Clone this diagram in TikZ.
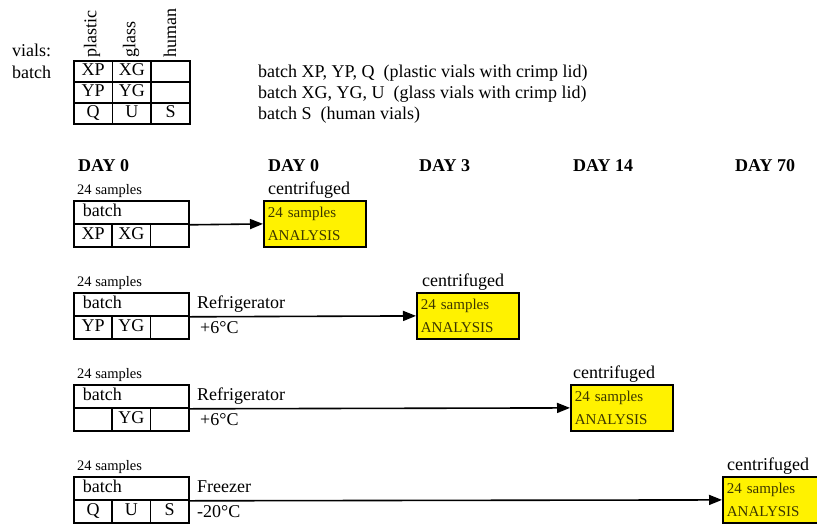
\documentclass[tikz,border=0pt]{standalone}
\usepackage{fontspec}
\setmainfont{Liberation Serif}
\usetikzlibrary{arrows.meta}
\definecolor{anatext}{RGB}{60,55,0}

\begin{document}
\begin{tikzpicture}[
      x=1pt, y=-1pt,
      every node/.style={font=\fontsize{18}{21}\selectfont, inner sep=0pt},
      gcell/.style={draw, line width=1.8pt, minimum width=38.67pt, minimum height=21pt,
                    text height=12pt, text depth=3.5pt, anchor=north west},
      hdr/.style={draw, line width=1.8pt, minimum height=23pt, text width=97pt,
                  inner xsep=9pt, align=left, text height=12pt, text depth=3.5pt,
                  anchor=north west},
      cell/.style={draw, line width=1.8pt, minimum width=38.33pt, minimum height=23pt,
                   text height=12pt, text depth=3.5pt, anchor=north west},
      ana/.style={draw, line width=1.8pt, fill=yellow, text=anatext, minimum height=46pt,
                  text width=94pt, inner xsep=4pt, align=left, anchor=north west,
                  font=\fontsize{15}{23}\selectfont},
      small/.style={font=\fontsize{14.5}{17}\selectfont, anchor=base west},
      txt/.style={anchor=base west},
      day/.style={font=\fontsize{18}{21}\selectfont\bfseries, anchor=base west},
      vlbl/.style={rotate=90, anchor=west},
      arr/.style={-{Triangle[length=13pt, width=10pt]}, line width=1.6pt}]

    \useasboundingbox (0,0) rectangle (817,523);

    % ============================================
    % legend: vials per batch
    % ============================================
    \node[txt] (vials) at (12,56) {vials:};
    \node[txt] (batch) at (12,78) {batch};

    \node[vlbl] (plastic) at (92,58) {plastic};
    \node[vlbl] (glass) at (131,58) {glass};
    \node[vlbl] (human) at (170,58) {human};

    \node[gcell] (g11) at (73,60) {XP};
    \node[gcell] (g12) at (111.67,60) {XG};
    \node[gcell] (g13) at (150.33,60) {};
    \node[gcell] (g21) at (73,81) {YP};
    \node[gcell] (g22) at (111.67,81) {YG};
    \node[gcell] (g23) at (150.33,81) {};
    \node[gcell] (g31) at (73,102) {Q};
    \node[gcell] (g32) at (111.67,102) {U};
    \node[gcell] (g33) at (150.33,102) {S};

    \node[txt] (desc1) at (258,77) {batch XP, YP, Q\ \ (plastic vials with crimp lid)};
    \node[txt] (desc2) at (258,98) {batch XG, YG, U\ \ (glass vials with crimp lid)};
    \node[txt] (desc3) at (258,119) {batch S\ \ (human vials)};

    % ============================================
    % time line
    % ============================================
    \node[day] (d0a) at (78,171) {DAY 0};
    \node[day] (d0b) at (268,171) {DAY 0};
    \node[day] (d3) at (419,171) {DAY 3};
    \node[day] (d14) at (573,171) {DAY 14};
    \node[day] (d70) at (735,171) {DAY 70};

    % ============================================
    % row 1: direct analysis
    % ============================================
    \def\ya{200}
    \node[small] (n1) at (77,\ya-6) {24 samples};
    \node[hdr] (bat1) at (73,\ya) {batch};
    \node[cell] (c1a) at (73,\ya+23) {XP};
    \node[cell] (c1b) at (111.33,\ya+23) {XG};
    \node[cell] (c1c) at (149.67,\ya+23) {};

    \node[txt] (cen1) at (268,\ya-6) {centrifuged};
    \node[ana] (ana1) at (263,\ya) {24 samples\\ANALYSIS};
    \draw[arr] (bat1.south east) -- (ana1.west);

    % ============================================
    % row 2: refrigerator, day 3
    % ============================================
    \def\yb{292}
    \node[small] (n2) at (77,\yb-6) {24 samples};
    \node[hdr] (bat2) at (73,\yb) {batch};
    \node[cell] (c2a) at (73,\yb+23) {YP};
    \node[cell] (c2b) at (111.33,\yb+23) {YG};
    \node[cell] (c2c) at (149.67,\yb+23) {};

    \node[txt] (st2) at (197,\yb+16) {Refrigerator};
    \node[txt] (tp2) at (200,\yb+41) {+6°C};

    \node[txt] (cen2) at (422,\yb-6) {centrifuged};
    \node[ana] (ana2) at (416,\yb) {24 samples\\ANALYSIS};
    \draw[arr] (bat2.south east) -- (ana2.west);

    % ============================================
    % row 3: refrigerator, day 14
    % ============================================
    \def\yc{384}
    \node[small] (n3) at (77,\yc-6) {24 samples};
    \node[hdr] (bat3) at (73,\yc) {batch};
    \node[cell] (c3a) at (73,\yc+23) {};
    \node[cell] (c3b) at (111.33,\yc+23) {YG};
    \node[cell] (c3c) at (149.67,\yc+23) {};

    \node[txt] (st3) at (197,\yc+16) {Refrigerator};
    \node[txt] (tp3) at (200,\yc+41) {+6°C};

    \node[txt] (cen3) at (573,\yc-6) {centrifuged};
    \node[ana] (ana3) at (570,\yc) {24 samples\\ANALYSIS};
    \draw[arr] (bat3.south east) -- (ana3.west);

    % ============================================
    % row 4: freezer, day 70
    % ============================================
    \def\yd{476}
    \node[small] (n4) at (77,\yd-6) {24 samples};
    \node[hdr] (bat4) at (73,\yd) {batch};
    \node[cell] (c4a) at (73,\yd+23) {Q};
    \node[cell] (c4b) at (111.33,\yd+23) {U};
    \node[cell] (c4c) at (149.67,\yd+23) {S};

    \node[txt] (st4) at (197,\yd+16) {Freezer};
    \node[txt] (tp4) at (197,\yd+41) {-20°C};

    \node[txt] (cen4) at (727,\yd-6) {centrifuged};
    \node[ana] (ana4) at (722,\yd) {24 samples\\ANALYSIS};
    \draw[arr] (bat4.south east) -- (ana4.west);

\end{tikzpicture}
\end{document}
